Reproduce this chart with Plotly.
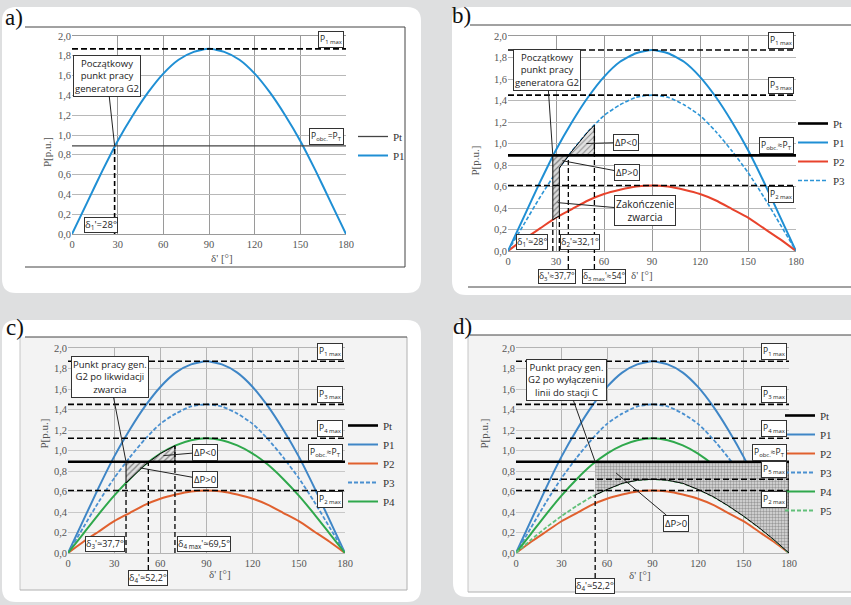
import numpy as np
import plotly.graph_objects as go

W, H = 851, 605

# ---------------- data ----------------
delta = [0, 10, 20, 30, 40, 50, 60, 70, 80, 90, 100, 110, 120, 130, 140, 150, 160, 170, 180]
P1 = [0.00, 0.32, 0.64, 0.94, 1.20, 1.43, 1.62, 1.76, 1.84, 1.87, 1.84, 1.76, 1.62, 1.43, 1.20, 0.94, 0.64, 0.32, 0.00]
P2 = [0.00, 0.11, 0.21, 0.31, 0.39, 0.47, 0.53, 0.57, 0.60, 0.61, 0.60, 0.57, 0.53, 0.47, 0.39, 0.31, 0.21, 0.11, 0.00]
P3 = [0.00, 0.25, 0.50, 0.73, 0.93, 1.11, 1.26, 1.36, 1.43, 1.45, 1.43, 1.36, 1.26, 1.11, 0.93, 0.73, 0.50, 0.25, 0.00]
P4 = [0.00, 0.19, 0.38, 0.56, 0.72, 0.86, 0.97, 1.05, 1.10, 1.12, 1.10, 1.05, 0.97, 0.86, 0.72, 0.56, 0.38, 0.19, 0.00]
P5 = [0.00, 0.13, 0.25, 0.36, 0.46, 0.55, 0.62, 0.68, 0.71, 0.72, 0.71, 0.68, 0.62, 0.55, 0.46, 0.36, 0.25, 0.13, 0.00]
PT = 0.89
P1_MAX, P2_MAX, P3_MAX, P4_MAX, P5_MAX = 1.87, 0.61, 1.45, 1.12, 0.72
D1, D2, D3, D3_MAX, D4, D4_MAX = 28.0, 32.1, 37.7, 54.0, 52.2, 69.5
x_ticks = [0, 30, 60, 90, 120, 150, 180]
x_tick_labels = ["0", "30", "60", "90", "120", "150", "180"]
y_ticks = [0.0, 0.2, 0.4, 0.6, 0.8, 1.0, 1.2, 1.4, 1.6, 1.8, 2.0]
y_tick_labels = ["0,0", "0,2", "0,4", "0,6", "0,8", "1,0", "1,2", "1,4", "1,6", "1,8", "2,0"]

# ---------------- geometry (pixels) ----------------
panels = {
    "a": dict(ax="", x0=72, x1=346, yt=36, yb=234, leg="legend", tt=24),
    "b": dict(ax="2", x0=508, x1=796, yt=36, yb=251, leg="legend2", tt=24),
    "c": dict(ax="3", x0=68, x1=345, yt=348, yb=553, leg="legend3", tt=29),
    "d": dict(ax="4", x0=516, x1=789, yt=348, yb=553, leg="legend4", tt=30),
}
YMAX = y_ticks[-1]

SERIF = "Liberation Serif"
SANS = "Open Sans"


def X(px):
    return px / W


def Y(py):
    return 1 - py / H


def f(series, d):
    return float(np.interp(d, delta, series))


def seg(series, a, b):
    xs = [a] + [d for d in delta if a < d < b] + [b]
    ys = [f(series, v) for v in xs]
    return xs, ys


fig = go.Figure()
shapes = []
annotations = []


def rrect(x0, y0, x1, y1, r, color):
    p = (f"M {X(x0 + r)},{Y(y0)} L {X(x1 - r)},{Y(y0)} Q {X(x1)},{Y(y0)} {X(x1)},{Y(y0 + r)} "
         f"L {X(x1)},{Y(y1 - r)} Q {X(x1)},{Y(y1)} {X(x1 - r)},{Y(y1)} L {X(x0 + r)},{Y(y1)} "
         f"Q {X(x0)},{Y(y1)} {X(x0)},{Y(y1 - r)} L {X(x0)},{Y(y0 + r)} Q {X(x0)},{Y(y0)} {X(x0 + r)},{Y(y0)} Z")
    shapes.append(dict(type="path", path=p, xref="paper", yref="paper", fillcolor=color,
                       line=dict(width=0), layer="below"))


def pline(x0, y0, x1, y1, color="#444", width=1):
    shapes.append(dict(type="line", xref="paper", yref="paper", x0=X(x0), y0=Y(y0), x1=X(x1), y1=Y(y1),
                       line=dict(color=color, width=width), layer="below"))


def prect(x0, y0, x1, y1, color):
    shapes.append(dict(type="rect", xref="paper", yref="paper", x0=X(x0), y0=Y(y0), x1=X(x1), y1=Y(y1),
                       fillcolor=color, line=dict(width=0), layer="below"))


# white panels
rrect(2, 7, 421, 293, 14, "white")
rrect(452, 7, 880, 295, 14, "white")
rrect(2, 320, 421, 602, 14, "white")
rrect(453, 320, 880, 597, 14, "white")
# chart areas
pline(25, 27, 405, 27)
pline(405, 27, 405, 267)
pline(25, 267, 405, 267)
pline(470, 25, 851, 25)
pline(468, 287, 851, 287)
prect(20, 337, 407, 590, "#f3f3f3")
pline(20, 337, 20, 590, "#c6c6c6")
pline(407, 337, 407, 590, "#b0b0b0")
pline(20, 590, 407, 590, "#b0b0b0")
pline(25, 337, 407, 337, "#444")
prect(468, 335, 851, 592, "#f3f3f3")
pline(468, 335, 468, 592, "#c6c6c6")
pline(468, 592, 851, 592, "#b0b0b0")
pline(470, 335, 851, 335, "#444")

# panel letters
for txt, px_, py_ in [("a)", 14, 17), ("b)", 461, 15), ("c)", 15, 328), ("d)", 462, 326)]:
    annotations.append(dict(text=txt, x=X(px_), y=Y(py_), xref="paper", yref="paper", showarrow=False,
                            font=dict(family=SERIF, size=23, color="#111"), xanchor="center", yanchor="middle"))

layout_axes = {}
for key, p in panels.items():
    grey_bg = key in ("c", "d")
    layout_axes["xaxis" + p["ax"]] = dict(
        domain=[X(p["x0"]), X(p["x1"])], range=[delta[0], delta[-1]], anchor="y" + p["ax"],
        tickvals=x_ticks, ticktext=x_tick_labels, showgrid=True,
        gridcolor="#9a9a9a" if not grey_bg else "#b4b4b4", gridwidth=1,
        showline=True, mirror=True, linecolor="#9a9a9a" if not grey_bg else "#b4b4b4",
        zeroline=False, ticks="", tickfont=dict(family=SERIF, size=10.5, color="#555"), fixedrange=True,
        automargin=False)
    layout_axes["yaxis" + p["ax"]] = dict(
        domain=[Y(p["yb"]), Y(p["yt"])], range=[0, YMAX], anchor="x" + p["ax"],
        tickvals=y_ticks, ticktext=y_tick_labels, showgrid=True,
        gridcolor="#b8b8b8" if not grey_bg else "#c8c8c8", gridwidth=1,
        showline=False, zeroline=False, ticks="", tickfont=dict(family=SERIF, size=10.5, color="#555"),
        fixedrange=True, automargin=False)
    annotations.append(dict(text="P[p.u.]", xref="paper", yref="paper",
                            x=X(p["x0"] - 33), y=Y((p["yt"] + p["yb"]) / 2), textangle=-90,
                            showarrow=False, font=dict(family=SERIF, size=11, color="#555")))
    annotations.append(dict(text="δ' [°]", xref="paper", yref="paper",
                            x=X((p["x0"] + p["x1"]) / 2 + (3 if key == "b" else 0)), y=Y(p["yb"] + p["tt"]),
                            showarrow=False, font=dict(family=SERIF, size=11, color="#555")))


def curve(key, series, name, color, rank, dash="solid", width=2, legend=True):
    p = panels[key]
    fig.add_trace(go.Scatter(x=delta, y=series, mode="lines", name=name,
                             line=dict(color=color, width=width, dash=dash, shape="spline", smoothing=0.6),
                             xaxis="x" + p["ax"], yaxis="y" + p["ax"], legend=p["leg"],
                             showlegend=legend, legendrank=rank, hoverinfo="skip"))


def hline(key, val, name, color="black", width=1.6, dash="6px,3px", legend=False, rank=1):
    p = panels[key]
    fig.add_trace(go.Scatter(x=[delta[0], delta[-1]], y=[val, val], mode="lines", name=name,
                             line=dict(color=color, width=width, dash=dash),
                             xaxis="x" + p["ax"], yaxis="y" + p["ax"], legend=p["leg"],
                             showlegend=legend, legendrank=rank, hoverinfo="skip"))


def area(key, xs, ys, pattern, fg, bg, size=4, sol=0.35):
    p = panels[key]
    fig.add_trace(go.Scatter(x=xs, y=ys, mode="lines", fill="toself", fillcolor=bg,
                             fillpattern=dict(shape=pattern, fgcolor=fg, bgcolor=bg, size=size, solidity=sol),
                             line=dict(color="black", width=1), xaxis="x" + p["ax"], yaxis="y" + p["ax"],
                             showlegend=False, hoverinfo="skip"))


def vdash(key, d, top, bottom_px=None, width=1.3):
    p = panels[key]
    hpx = p["yb"] - p["yt"]
    y1 = top / YMAX
    y0 = 0 if bottom_px is None else -(bottom_px - p["yb"]) / hpx
    shapes.append(dict(type="line", xref="x" + p["ax"], yref="y" + p["ax"] + " domain",
                       x0=d, x1=d, y0=y0, y1=y1, line=dict(color="black", width=width, dash="5px,3px"),
                       layer="above"))


def maxbox(key, html, val, above=True, size=8.5):
    p = panels[key]
    annotations.append(dict(text=html, x=179, y=val, xref="x" + p["ax"], yref="y" + p["ax"],
                            xanchor="right", yanchor="bottom" if above else "top",
                            yshift=1 if above else -1, showarrow=False,
                            bgcolor="white", bordercolor="#333", borderwidth=1, borderpad=1,
                            font=dict(family=SANS, size=size, color="#222")))


def box(key, html, x, y, xanchor="center", yanchor="middle", yshift=0, size=9):
    p = panels[key]
    annotations.append(dict(text=html, x=x, y=y, xref="x" + p["ax"], yref="y" + p["ax"],
                            xanchor=xanchor, yanchor=yanchor, yshift=yshift, showarrow=False,
                            bgcolor="white", bordercolor="#333", borderwidth=1, borderpad=0,
                            font=dict(family=SANS, size=size, color="#222")))


def callout(key, html, tip_x, tip_y, bx, by, size=9.5):
    p = panels[key]
    annotations.append(dict(text=html, x=tip_x, y=tip_y, ax=bx, ay=by, xref="x" + p["ax"], yref="y" + p["ax"],
                            axref="x" + p["ax"], ayref="y" + p["ax"], showarrow=True, arrowhead=0,
                            arrowwidth=1, arrowcolor="#222", standoff=0,
                            bgcolor="white", bordercolor="#333", borderwidth=1, borderpad=1,
                            font=dict(family=SANS, size=size, color="#222")))


BLUE_A = "#1f8fd4"
BLUE_C = "#3f86c6"
RED_B = "#e8432c"
RED_C = "#e0602e"
GREEN = "#2fa84c"
GREEN_L = "#62c07a"

# ---------------- panel a ----------------
curve("a", P1, "P1", BLUE_A, 2)
hline("a", PT, "Pt", color="#444", width=1.3, dash="solid", legend=True, rank=1)
hline("a", P1_MAX, "P1max")
vdash("a", D1, PT, width=1.6)
maxbox("a", "P<sub>1 max</sub>", P1_MAX)
maxbox("a", "P<sub>obc.</sub>=P<sub>T</sub>", PT)
box("a", "δ<sub>1</sub>'=28°", D1 + 2, 0, xanchor="right", yanchor="bottom", yshift=1, size=9.5)
callout("a", "Początkowy<br>punkt pracy<br>generatora G2", D1, PT, 23, 1.60)

# ---------------- panel b ----------------
curve("b", P1, "P1", BLUE_A, 2)
curve("b", P2, "P2", RED_B, 3)
curve("b", P3, "P3", "#2d95d6", 4, dash="4px,2px", width=1.6)
xs1, ys1 = seg(P3, D2, D3)
xs2, ys2 = seg(P2, D1, D2)
area("b", [D1, D3] + xs1[::-1] + xs2[::-1] + [D1], [PT, PT] + ys1[::-1] + ys2[::-1] + [PT],
     "/", "#222", "#d9d9d9", size=4, sol=0.3)
xs3, ys3 = seg(P3, D3, D3_MAX)
area("b", xs3 + [D3_MAX, D3], ys3 + [PT, PT], "/", "#333", "#e2e2e2", size=4, sol=0.25)
hline("b", P1_MAX, "P1max")
hline("b", P3_MAX, "P3max")
hline("b", P2_MAX, "P2max")
hline("b", PT, "Pt", color="black", width=2.6, dash="solid", legend=True, rank=1)
vdash("b", D1, f(P2, D1))
vdash("b", D2, f(P2, D2))
vdash("b", D3, PT, bottom_px=269)
vdash("b", D3_MAX, f(P3, D3_MAX), bottom_px=269)
maxbox("b", "P<sub>1 max</sub>", P1_MAX)
maxbox("b", "P<sub>3 max</sub>", P3_MAX)
maxbox("b", "P<sub>obc.</sub>≈P<sub>T</sub>", PT)
maxbox("b", "P<sub>2 max</sub>", P2_MAX, above=False)
box("b", "δ<sub>1</sub>'≈28°", D1 - 3, 0, xanchor="right", yanchor="bottom", yshift=1)
box("b", "δ<sub>2</sub>'≈32,1°", D2 + 0.5, 0, xanchor="left", yanchor="bottom", yshift=1)
box("b", "δ<sub>3</sub>'≈37,7°", D3 + 5, 0, xanchor="right", yanchor="top", yshift=-18, size=8.5)
box("b", "δ<sub>3 max</sub>'≈54°", D3_MAX - 8, 0, xanchor="left", yanchor="top", yshift=-18, size=8.5)
callout("b", "Początkowy<br>punkt pracy<br>generatora G2", D1, PT, 24.4, 1.68)
callout("b", "ΔP<0", 49, 1.0, 73.7, 1.01)
callout("b", "ΔP>0", 34, 0.84, 74.4, 0.726)
callout("b", "Zakończenie<br>zwarcia", 31, 0.45, 85.6, 0.38, size=10)

# ---------------- panel c ----------------
curve("c", P1, "P1", BLUE_C, 2)
curve("c", P2, "P2", RED_C, 3)
curve("c", P3, "P3", "#4a90d0", 4, dash="4px,2px", width=1.8)
curve("c", P4, "P4", GREEN, 5)
xs4, ys4 = seg(P4, D3, D4)
area("c", [D3] + xs4[::-1] + [D3], [PT] + ys4[::-1] + [PT], "/", "#222", "#dedede", size=4, sol=0.3)
xs5, ys5 = seg(P4, D4, D4_MAX)
area("c", xs5 + [D4_MAX, D4], ys5 + [PT, PT], "/", "#222", "#e4e4e4", size=4, sol=0.3)
hline("c", P1_MAX, "P1max")
hline("c", P3_MAX, "P3max")
hline("c", P4_MAX, "P4max")
hline("c", P2_MAX, "P2max")
hline("c", PT, "Pt", color="black", width=2.6, dash="solid", legend=True, rank=1)
vdash("c", D3, f(P4, D3))
vdash("c", D4, PT, bottom_px=570)
vdash("c", D4_MAX, f(P4, D4_MAX))
maxbox("c", "P<sub>1 max</sub>", P1_MAX)
maxbox("c", "P<sub>3 max</sub>", P3_MAX)
maxbox("c", "P<sub>4 max</sub>", P4_MAX)
maxbox("c", "P<sub>obc.</sub>≈P<sub>T</sub>", PT)
maxbox("c", "P<sub>2 max</sub>", P2_MAX, above=False)
box("c", "δ<sub>3</sub>'≈37,7°", D3 - 0.5, 0, xanchor="right", yanchor="bottom", yshift=1)
box("c", "δ<sub>4 max</sub>'≈69,5°", D4_MAX + 1.3, 0, xanchor="left", yanchor="bottom", yshift=1)
box("c", "δ<sub>4</sub>'≈52,2°", D4, 0, xanchor="center", yanchor="top", yshift=-17)
callout("c", "Punkt pracy gen.<br>G2 po likwidacji<br>zwarcia", D3, PT, 27, 1.72)
callout("c", "ΔP<0", 62, 0.95, 89, 0.985)
callout("c", "ΔP>0", 47, 0.83, 89, 0.717)

# ---------------- panel d ----------------
curve("d", P1, "P1", BLUE_C, 2)
curve("d", P2, "P2", RED_C, 3)
curve("d", P3, "P3", "#4a90d0", 4, dash="4px,2px", width=1.8)
curve("d", P4, "P4", GREEN, 5)
curve("d", P5, "P5", GREEN_L, 6, dash="4px,2px", width=1.8)
xs6, ys6 = seg(P5, D4, delta[-1])
area("d", [D4, delta[-1]] + xs6[::-1], [PT, PT] + ys6[::-1], ".", "#555", "#dedede", size=3, sol=0.5)
hline("d", P1_MAX, "P1max")
hline("d", P3_MAX, "P3max")
hline("d", P4_MAX, "P4max")
hline("d", P5_MAX, "P5max")
hline("d", P2_MAX, "P2max")
hline("d", PT, "Pt", color="black", width=2.6, dash="solid", legend=True, rank=1)
vdash("d", D4, f(P5, D4), bottom_px=578)
maxbox("d", "P<sub>1 max</sub>", P1_MAX)
maxbox("d", "P<sub>3 max</sub>", P3_MAX)
maxbox("d", "P<sub>4 max</sub>", P4_MAX)
maxbox("d", "P<sub>obc.</sub>≈P<sub>T</sub>", PT)
maxbox("d", "P<sub>5 max</sub>", P5_MAX)
maxbox("d", "P<sub>2 max</sub>", P2_MAX, above=False)
box("d", "δ<sub>4</sub>'≈52,2°", D4, 0, xanchor="center", yanchor="top", yshift=-25)
callout("d", "Punkt pracy gen.<br>G2 po wyłączeniu<br>linii do stacji C", D4, PT, 33, 1.69)
callout("d", "ΔP>0", 66, 0.78, 105.5, 0.29)

legend_font = dict(family=SERIF, size=11, color="#333")


def leg(px_, py_):
    return dict(x=X(px_), y=Y(py_), xanchor="left", yanchor="top", bgcolor="rgba(0,0,0,0)",
                font=legend_font, tracegroupgap=0, itemwidth=30, borderwidth=0)


fig.update_layout(
    width=W, height=H, margin=dict(l=0, r=0, t=0, b=0, autoexpand=False),
    paper_bgcolor="#dedfe0", plot_bgcolor="rgba(0,0,0,0)",
    shapes=shapes, annotations=annotations,
    legend=leg(353, 122), legend2=leg(793, 109), legend3=leg(343, 411), legend4=leg(780, 401),
    **layout_axes,
)

fig.write_html("out.html", config={"displayModeBar": False},
               post_script="document.body.style.margin='0';document.body.style.overflow='hidden';")
